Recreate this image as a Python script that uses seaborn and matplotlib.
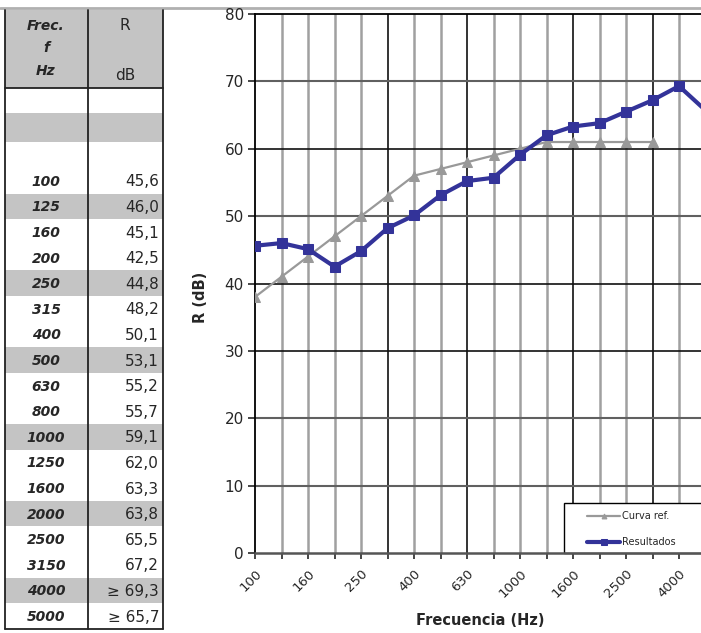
import matplotlib
matplotlib.use("Agg")
import matplotlib.pyplot as plt
from matplotlib.patches import Rectangle
import seaborn as sns
import pandas as pd

# third-octave bands (Hz) and measured sound reduction index R (dB)
freqs = [100, 125, 160, 200, 250, 315, 400, 500, 630, 800,
         1000, 1250, 1600, 2000, 2500, 3150, 4000, 5000]
resultados = [45.6, 46.0, 45.1, 42.5, 44.8, 48.2, 50.1, 53.1, 55.2, 55.7,
              59.1, 62.0, 63.3, 63.8, 65.5, 67.2, 69.3, 65.7]
# shifted reference curve (100 .. 3150 Hz)
curva_ref = [38, 41, 44, 47, 50, 53, 56, 57, 58, 59, 60, 61, 61, 61, 61, 61]
# values shown as lower bounds in the table
cota_inferior = [4000, 5000]

sns.set_style("white")
# the scan is stretched sideways, DejaVu's wide glyphs come closest
plt.rcParams['font.family'] = ['DejaVu Sans']

W, H = 701, 633
fig = plt.figure(figsize=(W / 100, H / 100), dpi=100)

# background axes in pixel coordinates for the table and the top rule
bg = fig.add_axes([0, 0, 1, 1], zorder=0)
bg.set_xlim(0, W)
bg.set_ylim(H, 0)
bg.axis('off')
bg.plot([0, W], [8, 8], color='#b0b0b0', lw=2)

gray = '#c4c4c4'
x0, xm, x1 = 5, 88, 163
bg.add_patch(Rectangle((x0, 10), x1 - x0, 78, color=gray, lw=0))
bg.add_patch(Rectangle((x0, 113), x1 - x0, 29, color=gray, lw=0))
row0, rh = 168, 25.6
for i, f in enumerate(freqs):
    top = row0 + rh * i
    if i % 3 == 1:
        bg.add_patch(Rectangle((x0, top), x1 - x0, rh, color=gray, lw=0))
    yc = top + rh / 2 + 1
    bg.text(46, yc, str(f), ha='center', va='center', fontsize=10,
            style='italic', weight='bold')
    txt = f"{resultados[i]:.1f}".replace('.', ',')
    if f in cota_inferior:
        txt = '\u2265 ' + txt
    bg.text(159, yc, txt, ha='right', va='center', fontsize=11)

for lbl, y in [('Frec.', 26), ('f', 48), ('Hz', 71)]:
    bg.text(46, y, lbl, ha='center', va='center', fontsize=10,
            style='italic', weight='bold')
bg.text(125, 26, 'R', ha='center', va='center', fontsize=11)
bg.text(125, 75, 'dB', ha='center', va='center', fontsize=11)

bottom_tab = row0 + rh * len(freqs)
for x in (x0, xm, x1):
    bg.plot([x, x], [10, bottom_tab], color='#222222', lw=1.3)
bg.plot([x0, x1], [88, 88], color='#222222', lw=1.3)
bg.plot([x0, x1], [bottom_tab, bottom_tab], color='#222222', lw=1.3)

# chart
left_px, right_px, top_px, bot_px = 255, 705.5, 14, 553
ax = fig.add_axes([left_px / W, 1 - bot_px / H,
                   (right_px - left_px) / W, (bot_px - top_px) / H], zorder=1)
ax.patch.set_alpha(0)

idx = list(range(len(freqs)))
ref_df = pd.DataFrame({'i': idx[:len(curva_ref)], 'R': curva_ref})
res_df = pd.DataFrame({'i': idx, 'R': resultados})

ax.set_xlim(0, len(freqs) - 1)
ax.set_ylim(0, 80)

# gridlines (scan renders some sharper/darker than others)
dark_v = {5, 8, 12, 15}
for i in idx[1:]:
    if i in dark_v:
        ax.axvline(i, color='#111111', lw=1.2, zorder=1)
    else:
        ax.axvline(i, color='#a0a0a0', lw=1.8, zorder=1)
dark_h = {30, 40, 60}
for v in range(10, 80, 10):
    if v in dark_h:
        ax.axhline(v, color='#111111', lw=1.2, zorder=1)
    else:
        ax.axhline(v, color='#606060', lw=1.5, zorder=1)

# legend frame, runs past the right edge like in the scan
ax.add_patch(Rectangle((564, 503), 160, 50, facecolor='white',
                       edgecolor='black', lw=1.0, zorder=2,
                       transform=bg.transData, clip_on=False))

sns.lineplot(data=ref_df, x='i', y='R', ax=ax, color='#999999', lw=1.6,
             marker='^', markersize=7, markeredgecolor='#999999',
             label='Curva ref.', zorder=3)
sns.lineplot(data=res_df, x='i', y='R', ax=ax, color='#333399', lw=3,
             marker='s', markersize=7.5, markeredgecolor='#333399',
             label='Resultados', zorder=4)

for side in ('left', 'top'):
    ax.spines[side].set_color('black')
    ax.spines[side].set_linewidth(1.3)
ax.spines['bottom'].set_color('#555555')
ax.spines['bottom'].set_linewidth(1.8)
ax.spines['right'].set_visible(False)

ax.set_yticks(range(0, 81, 10))
ax.set_xticks(idx)
ax.set_xticklabels([str(f) if i % 2 == 0 else '' for i, f in enumerate(freqs)],
                   rotation=45, ha='right', va='top', rotation_mode='anchor')
ax.tick_params(axis='y', which='major', left=True, length=5, width=1.2,
               labelsize=11, pad=3)
ax.tick_params(axis='x', which='major', bottom=True, length=4, width=1.2,
               labelsize=9.5, pad=6)

ax.set_xlabel('Frecuencia (Hz)', fontsize=10.5, weight='bold')
ax.set_ylabel('R (dB)', fontsize=10.5, weight='bold')
ax.xaxis.set_label_coords(0.5, -0.126)
ax.xaxis.label.set_verticalalignment('center')
ax.yaxis.set_label_coords(-0.104, 0.475)

# legend entries placed inside the frame drawn above
leg = ax.legend(loc='upper left', bbox_to_anchor=(587 / W, 1 - 511 / H),
                bbox_transform=fig.transFigure, fontsize=7, frameon=False,
                borderpad=0, borderaxespad=0, labelspacing=1.65,
                handlelength=3.4, handletextpad=0.15, markerscale=0.5)
leg.set_zorder(5)

fig.savefig('out.png', dpi=100)
